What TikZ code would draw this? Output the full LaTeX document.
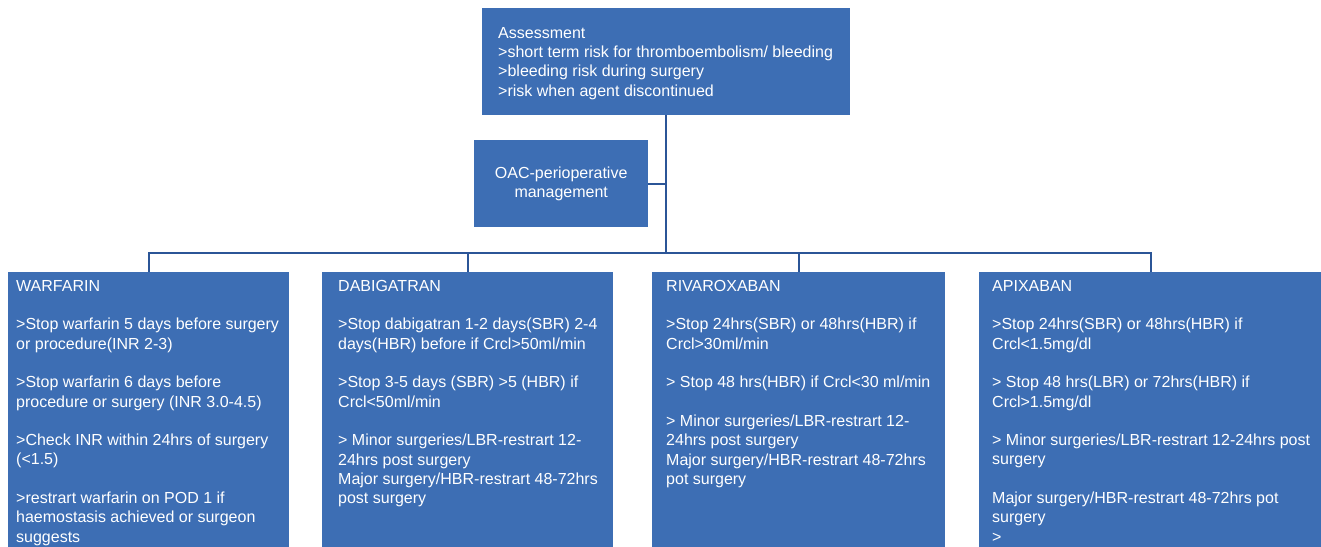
\documentclass[tikz,border=0pt]{standalone}
\usepackage{fontspec}
\setmainfont{Liberation Sans}
\definecolor{boxblue}{RGB}{61,110,180}
\definecolor{lineblue}{RGB}{43,85,151}
\begin{document}
\begin{tikzpicture}[x=1pt,y=-1pt,
  box/.style={fill=boxblue, draw=none, inner sep=0pt, anchor=north west},
  txt/.style={text=white, anchor=north west, align=left, inner sep=0pt, font=\fontsize{16}{19.3}\selectfont},
  conn/.style={draw=lineblue, line width=2.2pt}]
\useasboundingbox (0,0) rectangle (1321,546);
\clip (0,0) rectangle (1321,546);
% boxes
\node[box, minimum width=368pt, minimum height=107pt] (top) at (482,8) {};
\node[box, minimum width=174pt, minimum height=87pt, text=white, align=center,
      font=\fontsize{16}{19.3}\selectfont] (oac) at (474,140) {OAC-perioperative\\management};
\node[box, minimum width=281pt, minimum height=300pt] (war) at (8,272) {};
\node[box, minimum width=291pt, minimum height=300pt] (dab) at (322,272) {};
\node[box, minimum width=293pt, minimum height=300pt] (riv) at (652,272) {};
\node[box, minimum width=344pt, minimum height=300pt] (apx) at (979,272) {};
% texts
\node[txt] (toptxt) at (498,27) {Assessment\\
>short term risk for thromboembolism/ bleeding\\
>bleeding risk during surgery\\
>risk when agent discontinued};
\node[txt] (wartxt) at (16,280) {WARFARIN\\[19.3pt]
>Stop warfarin 5 days before surgery\\
or procedure(INR 2-3)\\[19.3pt]
>Stop warfarin 6 days before\\
procedure or surgery (INR 3.0-4.5)\\[19.3pt]
>Check INR within 24hrs of surgery\\
(<1.5)\\[19.3pt]
>restrart warfarin on POD 1 if\\
haemostasis achieved or surgeon\\
suggests};
\node[txt] (dabtxt) at (338,280) {DABIGATRAN\\[19.3pt]
>Stop dabigatran 1-2 days(SBR) 2-4\\
days(HBR) before if Crcl>50ml/min\\[19.3pt]
>Stop 3-5 days (SBR) >5 (HBR) if\\
Crcl<50ml/min\\[19.3pt]
> Minor surgeries/LBR-restrart 12-\\
24hrs post surgery\\
Major surgery/HBR-restrart 48-72hrs\\
post surgery};
\node[txt] (rivtxt) at (666,280) {RIVAROXABAN\\[19.3pt]
>Stop 24hrs(SBR) or 48hrs(HBR) if\\
Crcl>30ml/min\\[19.3pt]
> Stop 48 hrs(HBR) if Crcl<30 ml/min\\[19.3pt]
> Minor surgeries/LBR-restrart 12-\\
24hrs post surgery\\
Major surgery/HBR-restrart 48-72hrs\\
pot surgery};
\node[txt] (apxtxt) at (992,280) {APIXABAN\\[19.3pt]
>Stop 24hrs(SBR) or 48hrs(HBR) if\\
Crcl<1.5mg/dl\\[19.3pt]
> Stop 48 hrs(LBR) or 72hrs(HBR) if\\
Crcl>1.5mg/dl\\[19.3pt]
> Minor surgeries/LBR-restrart 12-24hrs post\\
surgery\\[19.3pt]
Major surgery/HBR-restrart 48-72hrs pot\\
surgery\\
>};
% connectors
\coordinate (bus) at (666,253);
\draw[conn] (top.south) -- (top.south |- bus);
\draw[conn] (oac.east) -- (oac.east -| bus);
\draw[conn] (war.north) -- (war.north |- bus) -- (apx.north |- bus) -- (apx.north);
\draw[conn] (dab.north) -- (dab.north |- bus);
\draw[conn] (riv.north) -- (riv.north |- bus);
\end{tikzpicture}
\end{document}
